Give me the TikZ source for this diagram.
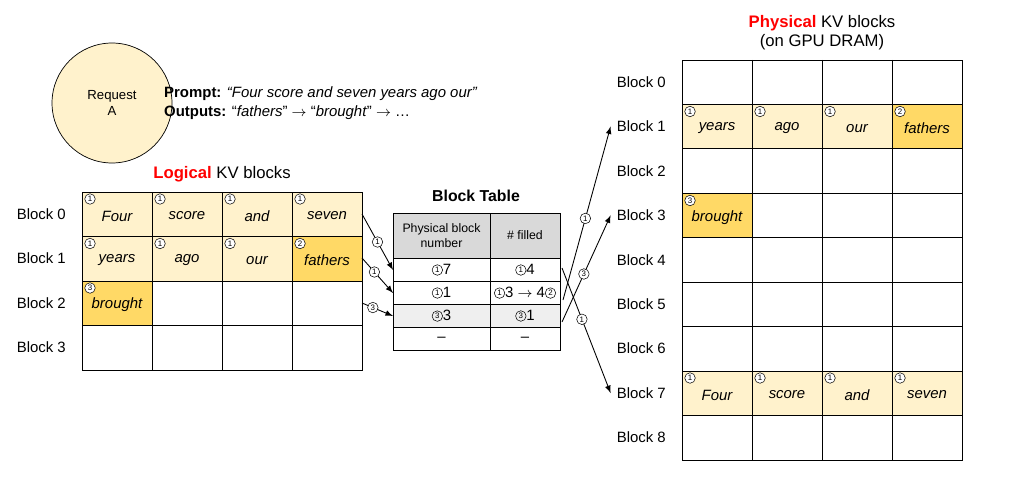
\documentclass[tikz,border=0pt]{standalone}
\usepackage{fontspec}
\setmainfont{Liberation Sans}
\usetikzlibrary{positioning}
\definecolor{lightblk}{HTML}{FFF2CC}
\definecolor{darkblk}{HTML}{FFD966}
\definecolor{headgray}{HTML}{D9D9D9}
\definecolor{rowgray}{HTML}{EFEFEF}
\newcommand{\cnum}[1]{\tikz[baseline=-0.6ex]\node[circle,draw,line width=0.3pt,inner sep=0pt,minimum size=6pt,font=\fontsize{4.5}{5}\selectfont]{#1};}
\tikzset{
  lbl/.style={font=\fontsize{8.5}{10}\selectfont},
  word/.style={font=\fontsize{8.5}{10}\selectfont\itshape},
  tnum/.style={circle,draw,line width=0.3pt,inner sep=0pt,minimum size=6pt,fill=white,font=\fontsize{4.5}{5}\selectfont},
  cell/.style={draw,line width=0.5pt},
  map/.style={->,>=latex,line width=0.5pt}
}
\begin{document}
\begin{tikzpicture}[x=0.02cm,y=-0.02cm]
    \useasboundingbox (0,0) rectangle (1016,500);
    % request
    \node[circle,draw,fill=lightblk,minimum size=2.4cm,align=center,font=\fontsize{7.5}{9}\selectfont] (req) at (112,103) {Request\\A};
    \node[lbl,anchor=west,align=left] (prompt) at (158,103) {\textbf{Prompt:} \textit{``Four score and seven years ago our''}\\[1pt]\textbf{Outputs:} ``\textit{fathers}'' $\rightarrow$ ``\textit{brought}'' $\rightarrow$ \ldots};
    % logical blocks
    \node[lbl,font=\fontsize{9.5}{11}\selectfont] (ltitle) at (222,174) {\textcolor{red}{\textbf{Logical}} KV blocks};
    \fill[lightblk] (82,192) rectangle (362,281);
    \fill[darkblk] (292,236.5) rectangle (362,281);
    \fill[darkblk] (82,281) rectangle (152,325.5);
    \foreach \r in {0,...,3} {
        \draw[cell] (82,192+44.5*\r) rectangle (362,236.5+44.5*\r);
        \node[lbl,anchor=east] (lb\r) at (72,214+44.5*\r) {Block \r};
    }
    \foreach \c in {1,2,3} \draw[cell] (82+70*\c,192) -- (82+70*\c,370);
    \foreach \w [count=\i from 0] in {Four,score,and,seven} {
        \node[word] at (117+70*\i,216) {\w};
        \node[tnum] at (90+70*\i,199) {1};
    }
    \foreach \w/\n [count=\i from 0] in {years/1,ago/1,our/1,fathers/2} {
        \node[word] at (117+70*\i,260.5) {\w};
        \node[tnum] at (90+70*\i,243.5) {\n};
    }
    \node[word] at (117,305) {brought};
    \node[tnum] at (90,288) {3};
    \coordinate (l0) at (362,214);
    \coordinate (l1) at (362,258);
    \coordinate (l2) at (362,303);
    % block table
    \node[font=\fontsize{9}{11}\selectfont\bfseries] (ttitle) at (476,196) {Block Table};
    \fill[headgray] (393,213) rectangle (560,258);
    \fill[rowgray] (393,304) rectangle (560,327);
    \draw[cell] (393,213) rectangle (560,350);
    \foreach \y in {258,281,304,327} \draw[cell] (393,\y) -- (560,\y);
    \draw[cell] (490,213) -- (490,350);
    \node[font=\fontsize{7}{8.5}\selectfont,align=center] at (441.5,235.5) {Physical block\\number};
    \node[font=\fontsize{7}{8.5}\selectfont] at (525,235.5) {\# filled};
    \node[lbl] (t0) at (441.5,270) {\cnum{1}7};
    \node[lbl] (t1) at (441.5,293) {\cnum{1}1};
    \node[lbl] (t2) at (441.5,316) {\cnum{3}3};
    \node[lbl] (t3) at (441.5,339) {--};
    \node[lbl] (f0) at (525,270) {\cnum{1}4};
    \node[lbl,inner sep=0pt] (f1) at (525,293) {\cnum{1}3 $\rightarrow$ 4\cnum{2}};
    \node[lbl] (f2) at (525,316) {\cnum{3}1};
    \node[lbl] (f3) at (525,339) {--};
    \coordinate (r0) at (393,270);
    \coordinate (r1) at (393,293);
    \coordinate (r2) at (393,316);
    % physical blocks
    \node[lbl,font=\fontsize{9.5}{11}\selectfont,align=center] (ptitle) at (822,33) {\textcolor{red}{\textbf{Physical}} KV blocks\\(on GPU DRAM)};
    \fill[lightblk] (682,104.4) rectangle (892,148.9);
    \fill[darkblk] (892,104.4) rectangle (962,148.9);
    \fill[darkblk] (682,193.3) rectangle (752,237.8);
    \fill[lightblk] (682,371.1) rectangle (962,415.6);
    \foreach \r in {0,...,8} {
        \draw[cell] (682,60+44.44*\r) rectangle (962,104.44+44.44*\r);
        \node[lbl,anchor=east] (pb\r) at (672,82+44.44*\r) {Block \r};
    }
    \foreach \c in {1,2,3} \draw[cell] (682+70*\c,60) -- (682+70*\c,460);
    \foreach \w/\n [count=\i from 0] in {years/1,ago/1,our/1,fathers/2} {
        \node[word] at (717+70*\i,128.5) {\w};
        \node[tnum] at (690+70*\i,111.5) {\n};
    }
    \node[word] at (717,217.5) {brought};
    \node[tnum] at (690,200.5) {3};
    \foreach \w [count=\i from 0] in {Four,score,and,seven} {
        \node[word] at (717+70*\i,395) {\w};
        \node[tnum] at (690+70*\i,378) {1};
    }
    % mappings
    \draw[map] (l0) -- node[tnum,pos=0.5] {1} (r0);
    \draw[map] (l1) -- node[tnum,pos=0.4] {1} (r1);
    \draw[map] (l2) -- node[tnum,pos=0.35] {3} (r2);
    \coordinate (s0) at (562,268);
    \coordinate (s1) at (563,300);
    \coordinate (s2) at (562,322);
    \draw[map] (s0) -- node[tnum,pos=0.41] {1} (pb7.west);
    \draw[map] (s1) -- node[tnum,pos=0.47] {1} (pb1.west);
    \draw[map] (s2) -- node[tnum,pos=0.45] {3} (pb3.west);
\end{tikzpicture}
\end{document}
